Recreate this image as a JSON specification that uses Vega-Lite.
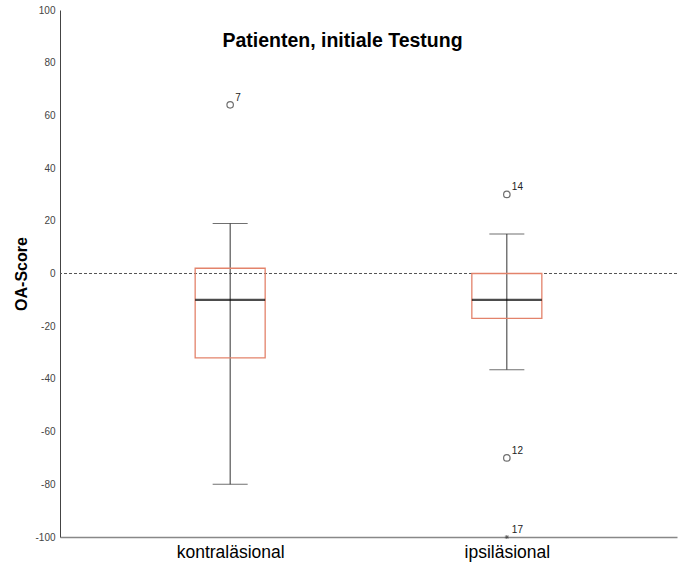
{
  "$schema": "https://vega.github.io/schema/vega-lite/v6.json",
  "width": 617,
  "height": 527,
  "autosize": {"type": "none"},
  "padding": {"left": 60, "top": 10, "right": 3, "bottom": 28},
  "background": "white",
  "config": {
    "font": "Liberation Sans",
    "view": {"stroke": null}
  },
  "title": {
    "text": "Patienten, initiale Testung",
    "fontSize": 19.5,
    "fontWeight": "bold",
    "color": "#000000",
    "anchor": "middle",
    "offset": -46,
    "dx": -26
  },
  "datasets": {
    "referenz": [{"wert": 0}],
    "boxen": [
      {"gruppe": "kontraläsional", "min": -80, "q1": -32, "median": -10, "q3": 2, "max": 19},
      {"gruppe": "ipsiläsional", "min": -36.5, "q1": -17, "median": -10, "q3": 0, "max": 15}
    ],
    "ausreisser": [
      {"gruppe": "kontraläsional", "wert": 64, "fall": "7", "typ": "mild"},
      {"gruppe": "ipsiläsional", "wert": 30, "fall": "14", "typ": "mild"},
      {"gruppe": "ipsiläsional", "wert": -70, "fall": "12", "typ": "mild"},
      {"gruppe": "ipsiläsional", "wert": -100, "fall": "17", "typ": "extrem"}
    ]
  },
  "layer": [
    {
      "data": {"name": "referenz"},
      "mark": {"type": "rule", "color": "#555555", "strokeDash": [3, 2], "strokeWidth": 1},
      "encoding": {
        "y": {
          "field": "wert",
          "type": "quantitative",
          "scale": {"domain": [-100, 100], "nice": false, "zero": false},
          "axis": {
            "title": "OA-Score",
            "values": [-100, -90, -80, -70, -60, -50, -40, -30, -20, -10, 0, 10, 20, 30, 40, 50, 60, 70, 80, 90, 100],
            "labelExpr": "'' + datum.value",
            "labelOverlap": "greedy",
            "labelSeparation": -30,
            "labelFontSize": 10,
            "labelColor": "#444444",
            "labelPadding": 5,
            "ticks": false,
            "grid": false,
            "domainColor": "#444444",
            "domainWidth": 1,
            "titleFontSize": 16,
            "titleFontWeight": "bold",
            "titleColor": "#000000",
            "titlePadding": 5
          }
        }
      }
    },
    {
      "data": {"name": "boxen"},
      "encoding": {
        "x": {
          "field": "gruppe",
          "type": "nominal",
          "scale": {"type": "point", "domain": ["kontraläsional", "ipsiläsional"], "padding": 0.615},
          "axis": {
            "title": null,
            "labelAngle": 0,
            "labelFontSize": 17.5,
            "labelColor": "#000000",
            "labelPadding": 6,
            "ticks": false,
            "domainColor": "#888888",
            "domainWidth": 1.5,
            "grid": false
          }
        }
      },
      "layer": [
        {
          "mark": {"type": "rule", "color": "#333333", "strokeWidth": 1},
          "encoding": {
            "y": {"field": "min", "type": "quantitative"},
            "y2": {"field": "max"}
          }
        },
        {
          "mark": {"type": "tick", "color": "#333333", "size": 35, "thickness": 1},
          "encoding": {"y": {"field": "min", "type": "quantitative"}}
        },
        {
          "mark": {"type": "tick", "color": "#333333", "size": 35, "thickness": 1},
          "encoding": {"y": {"field": "max", "type": "quantitative"}}
        },
        {
          "mark": {"type": "bar", "size": 70, "fill": "transparent", "stroke": "#e3836b", "strokeWidth": 1.3},
          "encoding": {
            "y": {"field": "q1", "type": "quantitative"},
            "y2": {"field": "q3"}
          }
        },
        {
          "mark": {"type": "tick", "color": "#000000", "size": 70, "thickness": 2.2},
          "encoding": {"y": {"field": "median", "type": "quantitative"}}
        }
      ]
    },
    {
      "data": {"name": "ausreisser"},
      "encoding": {
        "x": {"field": "gruppe", "type": "nominal"},
        "y": {"field": "wert", "type": "quantitative"}
      },
      "layer": [
        {
          "transform": [{"filter": "datum.typ === 'mild'"}],
          "mark": {"type": "point", "shape": "circle", "size": 42, "filled": false, "color": "#333333", "strokeWidth": 1.2}
        },
        {
          "transform": [{"filter": "datum.typ === 'extrem'"}],
          "mark": {
            "type": "point",
            "shape": "M-1,0H1M0,-1V1M-0.7,-0.7L0.7,0.7M-0.7,0.7L0.7,-0.7",
            "size": 16,
            "filled": false,
            "color": "#333333",
            "strokeWidth": 1
          }
        },
        {
          "mark": {"type": "text", "align": "left", "baseline": "bottom", "dx": 5, "dy": -2, "fontSize": 10, "color": "#222222"},
          "encoding": {"text": {"field": "fall"}}
        }
      ]
    }
  ]
}
